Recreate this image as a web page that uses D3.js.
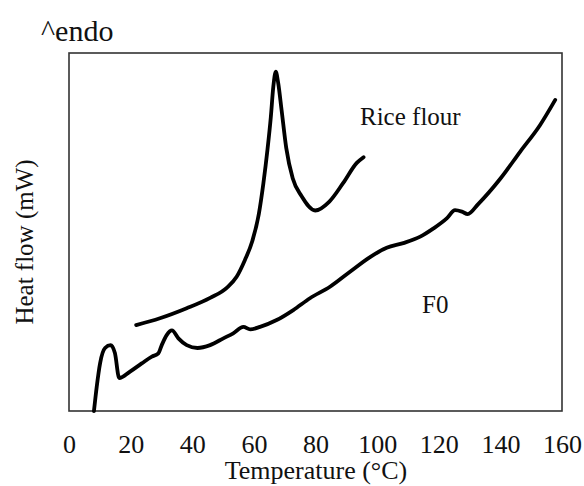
<!DOCTYPE html>
<html>
<head>
<meta charset="utf-8">
<script src="https://cdn.jsdelivr.net/npm/d3@7"></script>
<style>
  body { margin: 0; background: #fff; }
  text { font-family: "Liberation Serif", "Times New Roman", serif; fill: #111; }
</style>
</head>
<body>
<svg id="chart" width="584" height="486"></svg>
<script>
// x ticks (temperature, °C)
var xTicks = [0, 20, 40, 60, 80, 100, 120, 140, 160];

// rice flour DSC trace (temperature, heat flow in arbitrary units)
var riceTemp = [21.8, 29.5, 38.2, 45.8, 51.2, 54.4, 57.1, 59.5, 61.6, 63.1, 64.4, 65.5, 66.3, 67.1, 67.9, 69.0, 70.5, 72.6, 75.5, 79.9, 84.5, 89.0, 93.4, 95.6];
var riceFlow = [24.0, 25.9, 28.7, 31.6, 34.4, 37.5, 42.2, 47.5, 55.0, 63.7, 72.9, 82.1, 90.5, 94.8, 91.6, 84.0, 73.5, 65.0, 60.0, 56.0, 58.5, 63.7, 69.3, 70.9];

// F0 DSC trace
var f0Temp = [8.1, 9.0, 10.1, 11.7, 13.5, 14.9, 16.3, 19.8, 23.6, 26.9, 29.0, 30.1, 31.7, 33.4, 35.5, 38.2, 41.7, 45.8, 50.1, 53.3, 56.6, 58.8, 62.0, 67.4, 72.8, 78.2, 84.7, 91.2, 97.7, 103.1, 108.5, 114.0, 118.3, 122.6, 125.3, 127.5, 129.4, 132.8, 139.9, 146.4, 152.9, 157.8];
var f0Flow = [0, 6.8, 13.4, 17.6, 18.4, 16.2, 9.2, 11.0, 13.3, 15.2, 16.1, 18.4, 21.2, 22.5, 20.3, 18.4, 17.6, 18.4, 20.3, 21.7, 23.5, 22.8, 23.5, 25.4, 28.2, 31.5, 34.7, 38.9, 43.0, 45.6, 46.9, 48.7, 51.0, 53.8, 56.1, 55.7, 55.0, 57.8, 64.8, 72.4, 79.9, 86.9];

var svg = d3.select("#chart");

// plot box (window.top is reserved, so use other names)
var plotLeft = 69, plotRight = 562, plotTop = 53, plotBottom = 411;

var x = d3.scaleLinear().domain([0, 160]).range([plotLeft, plotRight]);
var y = d3.scaleLinear().domain([0, 100]).range([plotBottom, plotTop]);

// plot frame
svg.append("rect")
    .attr("x", plotLeft)
    .attr("y", plotTop)
    .attr("width", plotRight - plotLeft)
    .attr("height", plotBottom - plotTop)
    .attr("fill", "none")
    .attr("stroke", "#333")
    .attr("stroke-width", 1.6);

// x axis labels only, no tick marks
var xAxis = d3.axisBottom(x)
    .tickValues(xTicks)
    .tickSize(0)
    .tickPadding(24)
    .tickFormat(d3.format("d"));

var gx = svg.append("g")
    .attr("transform", "translate(0," + plotBottom + ")")
    .call(xAxis);
gx.select(".domain").remove();
gx.selectAll("text")
    .attr("font-size", 26)
    .attr("font-family", "Liberation Serif")
    .attr("fill", "#111");

// titles
svg.append("text")
    .attr("x", 316)
    .attr("y", 479)
    .attr("text-anchor", "middle")
    .attr("font-size", 26)
    .text("Temperature (°C)");

svg.append("text")
    .attr("transform", "translate(33,242) rotate(-90)")
    .attr("text-anchor", "middle")
    .attr("font-size", 25)
    .text("Heat flow (mW)");

svg.append("text")
    .attr("x", 41)
    .attr("y", 41)
    .attr("font-size", 30)
    .text("^endo");

var line = d3.line()
    .x(function (d) { return x(d[0]); })
    .y(function (d) { return y(d[1]); })
    .curve(d3.curveMonotoneX);

var rice = d3.zip(riceTemp, riceFlow);
var f0 = d3.zip(f0Temp, f0Flow);

svg.selectAll(".trace")
    .data([rice, f0])
    .enter()
    .append("path")
    .attr("class", "trace")
    .attr("d", line)
    .attr("fill", "none")
    .attr("stroke", "#000")
    .attr("stroke-width", 3.8)
    .attr("stroke-linecap", "round")
    .attr("stroke-linejoin", "round");

// curve labels
svg.append("text")
    .attr("x", 360)
    .attr("y", 125)
    .attr("font-size", 25)
    .text("Rice flour");

svg.append("text")
    .attr("x", 422)
    .attr("y", 313)
    .attr("font-size", 25)
    .text("F0");
</script>
</body>
</html>
